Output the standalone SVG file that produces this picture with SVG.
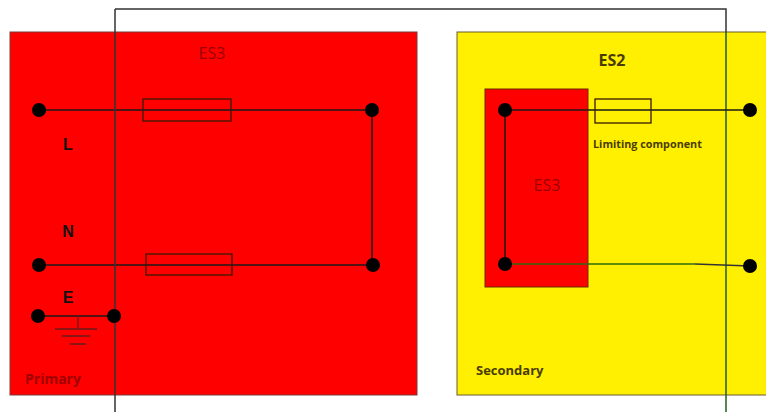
<svg xmlns="http://www.w3.org/2000/svg" width="766" height="412" viewBox="0 0 766 412">
<style>
.wire{stroke:#1a1a1a;stroke-width:1.5;fill:none}
.fuse{stroke:#3a1a00;stroke-width:1.3;fill:none}
.dot{fill:#000}
.lbl{font-family:"Liberation Sans",Arial,sans-serif;font-weight:bold;font-size:16px;fill:#111;text-anchor:middle}
.es3{font-family:"Open Sans","Liberation Sans",sans-serif;font-size:16px;fill:#9a0000;text-anchor:middle}
.cal{font-family:"Open Sans","Liberation Sans",sans-serif;font-weight:bold;fill:#4a3c00}
</style>
<rect width="766" height="412" fill="#fff"/>
<g id="primary">
<rect x="10" y="32" width="407" height="363" fill="#ff0000" stroke="#7a3a3a" stroke-width="1"/>
<text class="es3" x="212" y="59">ES3</text>
<text x="25" y="384" font-family="Open Sans,Liberation Sans,sans-serif" font-size="14" font-weight="bold" fill="#a00000">Primary</text>
</g>
<g id="secondary">
<rect x="457" y="32" width="320" height="363" fill="#ffef00" stroke="#6a5a30" stroke-width="1"/>
<text class="cal" x="612" y="66" font-size="16" text-anchor="middle" fill="#111">ES2</text>
<text class="cal" x="476" y="375" font-size="13">Secondary</text>
</g>
<g id="es3-inner">
<rect x="485" y="89" width="103" height="198" fill="#ff0000" stroke="#6a2a00" stroke-width="1"/>
<text class="es3" x="547" y="191">ES3</text>
</g>
<g id="connectors">
<path class="wire" d="M39 110H372V265"/>
<path class="wire" d="M39 265H372"/>
<path class="wire" d="M39 316H114"/>
<path d="M115 9H726V32" stroke="#333" stroke-width="1.5" fill="none"/>
<path d="M115 9V412" stroke="#333" stroke-width="1.5" fill="none"/>
<path d="M726 32V412" stroke="#1e5c1e" stroke-width="1.5" fill="none"/>
<path class="wire" d="M505 110H750"/>
<path class="wire" d="M505 110V264"/>
<path d="M505 264H695" stroke="#2e6a10" stroke-width="1.5" fill="none"/>
<path d="M695 264L750 266" stroke="#333" stroke-width="1.5" fill="none"/>
</g>
<g id="fuse-L"><rect class="fuse" x="143" y="99" width="88" height="22"/></g>
<g id="fuse-N"><rect class="fuse" x="146" y="254" width="86" height="21"/></g>
<g id="fuse-limit"><rect class="fuse" x="595" y="99" width="56" height="24"/>
<text class="cal" x="593" y="148" font-size="10.8">Limiting component</text></g>
<g id="ground">
<path d="M78 316V328M55 329H97M62 336H90M70 344H86" stroke="#6a1a1a" stroke-width="1.3" fill="none"/>
</g>
<g id="terminals">
<circle class="dot" cx="39" cy="110" r="7"/>
<circle class="dot" cx="372" cy="110" r="7"/>
<circle class="dot" cx="39" cy="265" r="7"/>
<circle class="dot" cx="373" cy="265" r="7"/>
<circle class="dot" cx="38" cy="316" r="7"/>
<circle class="dot" cx="114" cy="316" r="7"/>
<circle class="dot" cx="505" cy="110" r="7"/>
<circle class="dot" cx="750" cy="110" r="7"/>
<circle class="dot" cx="505" cy="264" r="7"/>
<circle class="dot" cx="750" cy="266" r="7"/>
</g>
<g id="labels">
<text class="lbl" x="68" y="150">L</text>
<text class="lbl" x="68" y="237">N</text>
<text class="lbl" x="68" y="303">E</text>
</g>
</svg>
